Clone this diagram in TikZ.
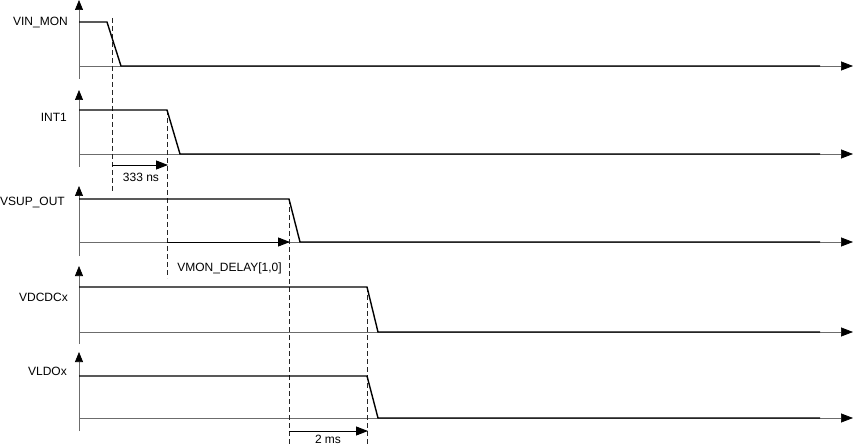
\documentclass[tikz,border=0pt]{standalone}
\usepackage{fontspec}
\setmainfont{Liberation Sans}
\usetikzlibrary{arrows.meta}
\begin{document}
\begin{tikzpicture}[x=1pt,y=-1pt,
 axis/.style={draw=gray!85!black, line width=0.7pt},
 haxis/.style={axis,-{Triangle[length=12pt,width=9pt,color=black]}},
 vaxis/.style={axis,-{Triangle[length=10pt,width=8pt,color=black]}},
 sig/.style={draw=black, line width=1.4pt, line join=miter},
 guide/.style={draw=black!85, line width=0.7pt, dash pattern=on 5pt off 3pt},
 interval/.style={draw=black, line width=0.9pt, -{Triangle[length=12pt,width=9pt]}},
 lbl/.style={font=\fontsize{12}{14}\selectfont, inner sep=0pt, anchor=east},
 tlbl/.style={font=\fontsize{12}{14}\selectfont, inner sep=0pt}]
\useasboundingbox (0,0) rectangle (853,446);

% ---------- axes ----------
% panel 1
\coordinate (a1b) at (79,79); \coordinate (a1t) at (79,0);
\coordinate (a1o) at (79,66); \coordinate (a1e) at (853,66);
\draw[vaxis] (a1b) -- (a1t);
\draw[haxis] (a1o) -- (a1e);
% panel 2
\coordinate (a2b) at (79,167); \coordinate (a2t) at (79,90);
\coordinate (a2o) at (79,154); \coordinate (a2e) at (853,154);
\draw[vaxis] (a2b) -- (a2t);
\draw[haxis] (a2o) -- (a2e);
% panel 3
\coordinate (a3b) at (79,256); \coordinate (a3t) at (79,186);
\coordinate (a3o) at (79,242); \coordinate (a3e) at (853,242);
\draw[vaxis] (a3b) -- (a3t);
\draw[haxis] (a3o) -- (a3e);
% panel 4
\coordinate (a4b) at (79,344); \coordinate (a4t) at (79,266);
\coordinate (a4o) at (79,332); \coordinate (a4e) at (853,332);
\draw[vaxis] (a4b) -- (a4t);
\draw[haxis] (a4o) -- (a4e);
% panel 5
\coordinate (a5b) at (79,431); \coordinate (a5t) at (79,352);
\coordinate (a5o) at (79,418); \coordinate (a5e) at (853,418);
\draw[vaxis] (a5b) -- (a5t);
\draw[haxis] (a5o) -- (a5e);

% ---------- guides ----------
\coordinate (g1t) at (112,18);  \coordinate (g1b) at (112,192);
\coordinate (g2t) at (167,110); \coordinate (g2b) at (167,278);
\coordinate (g3t) at (289,199); \coordinate (g3b) at (289,446);
\coordinate (g4t) at (367,287); \coordinate (g4b) at (367,446);
\draw[guide] (g1t) -- (g1b);
\draw[guide] (g2t) -- (g2b);
\draw[guide] (g3t) -- (g3b);
\draw[guide] (g4t) -- (g4b);

% ---------- signals ----------
\coordinate (s1a) at (79,22);  \coordinate (s1b) at (107,22);
\coordinate (s1c) at (121,66); \coordinate (s1d) at (820,66);
\draw[sig] (s1a) -- (s1b) -- (s1c) -- (s1d);
\coordinate (s2a) at (79,110);  \coordinate (s2b) at (167,110);
\coordinate (s2c) at (180,154); \coordinate (s2d) at (820,154);
\draw[sig] (s2a) -- (s2b) -- (s2c) -- (s2d);
\coordinate (s3a) at (79,199);  \coordinate (s3b) at (289,199);
\coordinate (s3c) at (300,242); \coordinate (s3d) at (820,242);
\draw[sig] (s3a) -- (s3b) -- (s3c) -- (s3d);
\coordinate (s4a) at (79,287);  \coordinate (s4b) at (367,287);
\coordinate (s4c) at (378,332); \coordinate (s4d) at (820,332);
\draw[sig] (s4a) -- (s4b) -- (s4c) -- (s4d);
\coordinate (s5a) at (79,376);  \coordinate (s5b) at (367,376);
\coordinate (s5c) at (378,418); \coordinate (s5d) at (820,418);
\draw[sig] (s5a) -- (s5b) -- (s5c) -- (s5d);

% ---------- intervals ----------
\coordinate (i1a) at (112,165); \coordinate (i1b) at (168,165);
\draw[interval] (i1a) -- (i1b);
\coordinate (i2a) at (167,242); \coordinate (i2b) at (290,242);
\draw[interval] (i2a) -- (i2b);
\coordinate (i3a) at (289,431); \coordinate (i3b) at (368,431);
\draw[interval] (i3a) -- (i3b);

% ---------- labels ----------
\node[lbl] (l1) at (68,23) {VIN\_MON};
\node[lbl] (l2) at (67,117) {INT1};
\node[lbl] (l3) at (65,203) {VSUP\_OUT};
\node[lbl] (l4) at (68,297) {VDCDCx};
\node[lbl] (l5) at (67,371) {VLDOx};
\node[tlbl] (t1) at (141,177) {333 ns};
\node[tlbl] (t2) at (229.5,268) {VMON\_DELAY[1,0]};
\node[tlbl] (t3) at (328,439) {2 ms};
\end{tikzpicture}
\end{document}
